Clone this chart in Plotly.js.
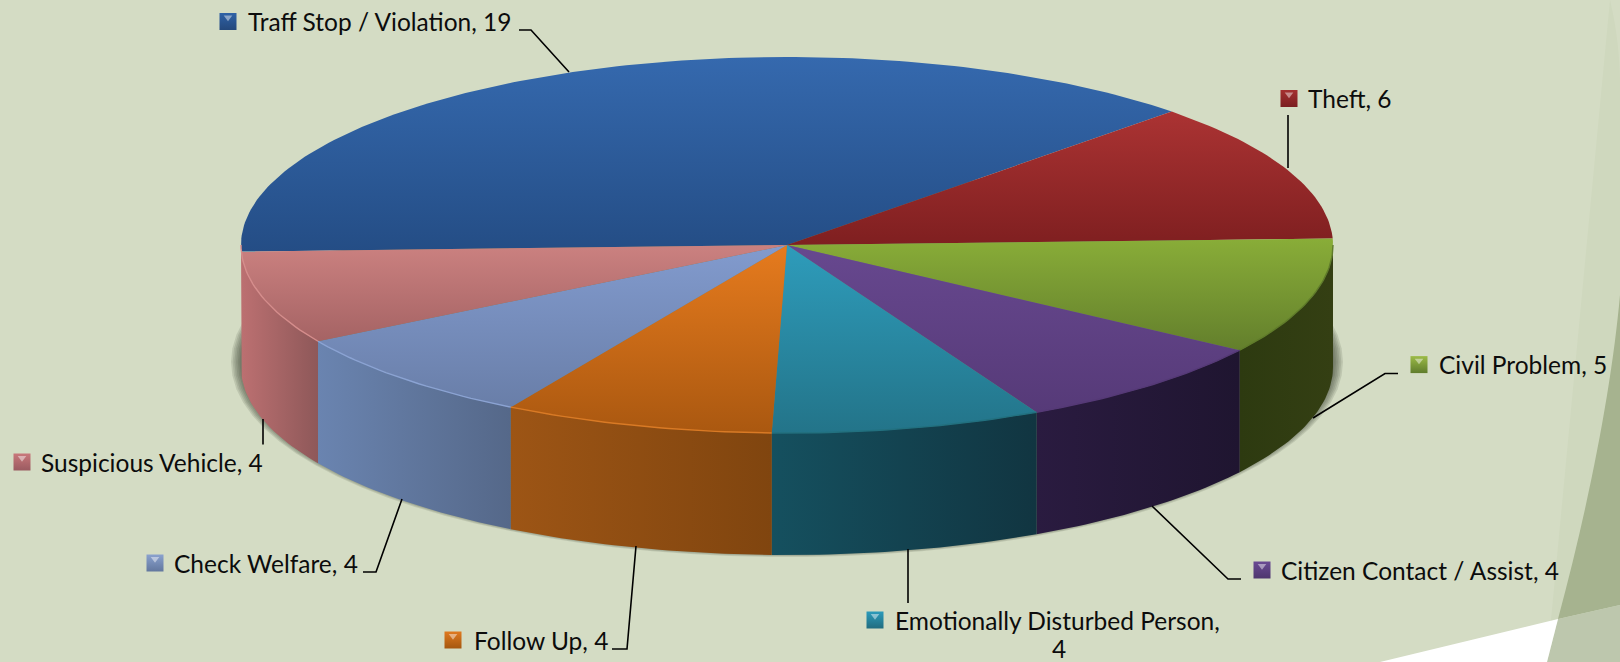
<!DOCTYPE html>
<html><head><meta charset="utf-8">
<script src="https://cdn.plot.ly/plotly-3.0.1.min.js"></script>
<style>html,body{margin:0;padding:0;background:#D4DCC4}#c{width:1620px;height:662px}</style>
</head><body><div id="c"></div>
<script>
// ---- data ----
const categories = ["Traff Stop / Violation","Theft","Civil Problem","Citizen Contact / Assist","Emotionally Disturbed Person","Follow Up","Check Welfare","Suspicious Vehicle"];
const values = [19,6,5,4,4,4,4,4];
// ---- styles ----
const topLight  = ["#3569AE","#AB3333","#89AD38","#67488F","#2E9CBB","#E67B1E","#829BCE","#CB8180"];
const topDark   = ["#244D85","#7F1F20","#637F2C","#563A78","#237489","#AA5810","#697EA8","#A56364"];
const wallLeft  = ["#224A80","#7C1D1E","#2D3A10","#2A1B40","#15505F","#9D5515","#6A84B0","#BC7071"];
const wallRight = ["#224A80","#7C1D1E","#343F13","#1F1530","#113541","#80450F","#556889","#8E5859"];
const rimColor  = [null,null,"#5F7B2A","#553976","#22707F","#D97A25","#8BA3D3","#D58D8C"];
const swatchTop = ["#2F62A6","#A53030","#9CBB47","#6A4A94","#2C9BBB","#E07A20","#8AA2CE","#C9787B"];
const swatchBot = ["#24487C","#7A1E20","#5F7C2C","#4E366E","#216C7F","#A5570F","#62779E","#9A5A60"];
// ---- geometry ----
const cx=787, cy=245, rx=546, ry=188, depth=122, startDeg=182.0;
const pt=(deg,dy=0)=>[cx+rx*Math.cos(deg*Math.PI/180), cy-ry*Math.sin(deg*Math.PI/180)+dy];
function arc(a,b,dy=0){const n=Math.max(2,Math.ceil(Math.abs(a-b)));const o=[];for(let i=0;i<=n;i++)o.push(pt(a+(b-a)*i/n,dy));return o;}
const total=values.reduce((s,v)=>s+v,0);
const traces=[];
// shadow under the pie
for(let k=0;k<6;k++){
  const e=[];const g=10-k*1.7;
  for(let d=0;d<=360;d+=4){e.push([cx+(rx+g)*Math.cos(d*Math.PI/180),cy+depth-5-(ry+2+g*0.5)*Math.sin(d*Math.PI/180)]);}
  traces.push({type:'scatter',mode:'lines',x:e.map(p=>p[0]),y:e.map(p=>p[1]),fill:'toself',fillcolor:'rgba(50,55,35,0.13)',line:{width:0},hoverinfo:'skip',showlegend:false});
}
// slices
let a=startDeg; const spans=values.map(v=>{const s=[a,a-v/total*360];a=s[1];return s;});
const frontRange=s=>{const hi=Math.min(s[0],0);const lo=s[1]<=-177?-180:Math.max(s[1],-180);return [hi,lo];};
// walls (front half only, drawn through angles from values)
spans.forEach((s,i)=>{
  const [hi,lo]=frontRange(s);
  if(hi<=lo) return;
  const p=arc(hi,lo).concat(arc(lo,hi,depth));p.push(p[0]);
  const xs=p.map(q=>q[0]), ys=p.map(q=>q[1]);
  traces.push({type:'scatter',mode:'lines',x:xs,y:ys,fill:'toself',line:{width:0},hoverinfo:'skip',showlegend:false,
    fillcolor:wallLeft[i],
    fillgradient:{type:'horizontal',start:Math.min(...xs),stop:Math.max(...xs),colorscale:[[0,wallLeft[i]],[1,wallRight[i]]]}});
});
// top faces
spans.forEach((s,i)=>{
  const p=[[cx,cy]].concat(arc(s[0],s[1]));p.push([cx,cy]);
  const xs=p.map(q=>q[0]), ys=p.map(q=>q[1]);
  traces.push({type:'scatter',mode:'lines',x:xs,y:ys,fill:'toself',line:{width:0},hoverinfo:'skip',showlegend:false,
    fillcolor:topLight[i],
    fillgradient:{type:'vertical',start:Math.min(...ys),stop:Math.max(...ys),colorscale:[[0,topLight[i]],[1,topDark[i]]]}});
});
// bevel rim
spans.forEach((s,i)=>{
  if(!rimColor[i])return;
  const [hi,lo]=frontRange(s);
  if(hi<=lo) return;
  const p=arc(hi,lo);
  traces.push({type:'scatter',mode:'lines',x:p.map(q=>q[0]),y:p.map(q=>q[1]),line:{width:1.4,color:rimColor[i]},hoverinfo:'skip',showlegend:false});
});
// leader lines
const leaders=[
 [[519,30],[531,30],[569,72]],
 [[1288,115],[1288,168]],
 [[1398,373.5],[1385,373.5],[1313,418]],
 [[1152,506],[1228,579],[1241,579]],
 [[908,549],[908,603]],
 [[636,546],[627,649],[612,649]],
 [[402,499],[376,572],[363,572]],
 [[263,419],[263,444.5]]
];
leaders.forEach(l=>traces.push({type:'scatter',mode:'lines',x:l.map(p=>p[0]),y:l.map(p=>p[1]),line:{width:1.6,color:'#000'},hoverinfo:'skip',showlegend:false}));
// label placement
const swX=[228,1289,1419,1262,875,453,155,22];
const swY=[21.5,98.5,364.6,570,620,640,563,462];
const txX=[246,1306,1437,1279,893,471.5,172,39];
traces.push({type:'scatter',mode:'markers',x:swX,y:swY,hoverinfo:'skip',showlegend:false,
  marker:{symbol:'square',size:17,color:swatchTop,gradient:{type:'vertical',color:swatchBot},line:{width:0}}});
traces.push({type:'scatter',mode:'markers',x:swX,y:swY.map(v=>v-4),hoverinfo:'skip',showlegend:false,
  marker:{symbol:'triangle-down',size:7.5,color:'rgba(255,255,255,0.45)',line:{width:0}}});
const font={family:'Lato, Carlito, sans-serif',size:24.5,color:'#0c0c0c'};
const annotations=categories.map((c,i)=>{
  const t=i===4?c+',':c+', '+values[i];
  return {x:txX[i],y:swY[i],xref:'x',yref:'y',text:t,showarrow:false,xanchor:'left',yanchor:'middle',font};
});
annotations.push({x:1059,y:648,xref:'x',yref:'y',text:String(values[4]),showarrow:false,xanchor:'center',yanchor:'middle',font});
const shapes=[
 {type:'path',layer:'below',xref:'x',yref:'y',path:'M1610,0 C1622,50 1620,90 1620,110 L1620,662 L1547,662 Z',fillcolor:'#CFD8BE',line:{width:0}},
 {type:'path',layer:'below',xref:'x',yref:'y',path:'M1620,295 C1612,385 1590,500 1558,619 L1620,605 Z',fillcolor:'#A6B38F',line:{width:0}},
 {type:'path',layer:'below',xref:'x',yref:'y',path:'M1558,619 L1620,605 L1620,662 L1547,662 Z',fillcolor:'#BDC7AD',line:{width:0}},
 {type:'path',layer:'below',xref:'x',yref:'y',path:'M1380,662 L1558,619 L1547,662 Z',fillcolor:'#FFFFFF',line:{width:0}}
];
Plotly.newPlot('c',traces,{
  width:1620,height:662,margin:{l:0,r:0,t:0,b:0},
  paper_bgcolor:'#D4DCC4',plot_bgcolor:'rgba(0,0,0,0)',showlegend:false,
  xaxis:{range:[0,1620],visible:false,fixedrange:true},
  yaxis:{range:[662,0],visible:false,fixedrange:true},
  shapes,annotations
},{displayModeBar:false,staticPlot:true});
</script></body></html>
